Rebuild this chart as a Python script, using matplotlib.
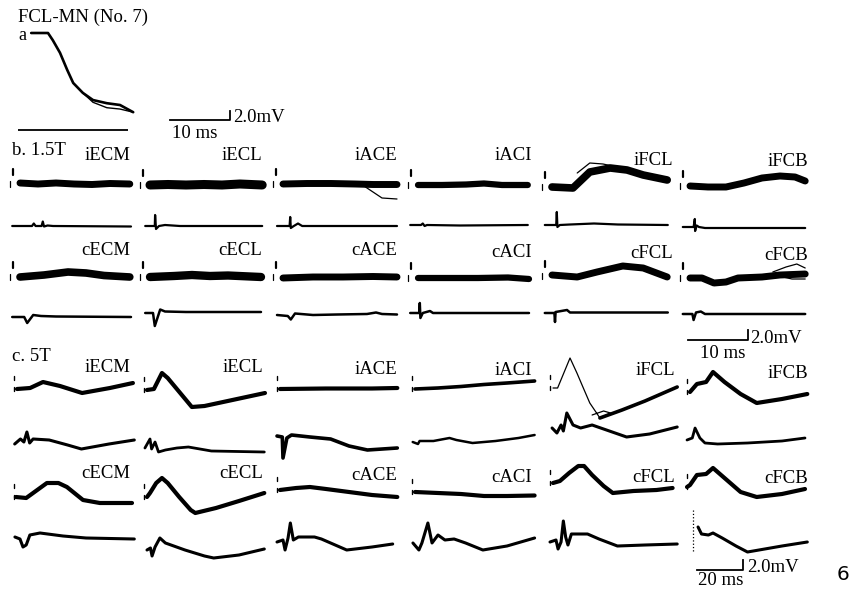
import matplotlib
matplotlib.use("Agg")
from matplotlib import pyplot as plt

# ---- data (time in ms, potential in mV, upward positive) ----
muscles = ['ECM', 'ECL', 'ACE', 'ACI', 'FCL', 'FCB']

# panel a: FCL motoneuron
a_trace = [(-0.3, 0), (2.5, 0), (3.3, -1.6), (4.5, -4.4), (5.7, -8.2), (6.7, -11.1),
           (8.3, -13.3), (10, -14.9), (12.3, -15.6), (14.5, -16.0), (16.7, -17.6)]
a_sweep = [(8.3, -13.3), (10, -15.4), (12.3, -16.6), (14.5, -16.9), (16.7, -17.6)]
a_ref_level = -21.6
a_ref_span = (-2.5, 15.8)

# panel b: 1.5T, ipsi EMG / reference / contra EMG / reference
b_row1 = [
    [(0, 0.2), (3, 0.0), (6, 0.2), (9, 0.0), (12, -0.1), (15, 0.1), (18.3, 0.0)],
    [(0, 0), (3, 0.1), (6, 0), (9, 0.1), (12, 0), (15, 0.2), (18.7, 0)],
    [(0, 0), (4, 0.1), (8, 0.1), (12, 0), (15, -0.1), (19, -0.1)],
    [(0, 0), (4, 0), (8, 0.1), (11, 0.3), (14, 0), (18.3, 0)],
    [(0, 0), (3.5, -0.2), (6.3, 3.0), (9.7, 3.8), (12.5, 3.4), (15.2, 2.4), (19.2, 1.4)],
    [(0, 0), (3, -0.2), (6, -0.2), (9, 0.6), (12, 1.6), (15, 2.0), (17.5, 1.8), (19.2, 1.0)],
]
b_row2 = [
    [(-1.3, 0), (2.0, 0), (2.3, 0.5), (2.6, 0), (3.6, 0), (3.8, 0.9), (4.0, -0.1), (4.6, 0.1), (5.5, 0), (18.5, -0.1)],
    [(-0.8, 0), (0.8, 0), (0.85, 2.2), (1.0, -0.6), (1.5, 0), (2.5, 0.2), (5, 0), (18.7, 0)],
    [(-1.0, 0), (1.1, 0), (1.2, 1.8), (1.3, -0.4), (1.8, 0), (2.5, 0.5), (3.2, 0), (19, 0)],
    [(-1.3, 0), (0.5, 0), (0.8, 0.3), (1.1, -0.2), (1.5, 0), (7, -0.1), (18.3, 0)],
    [(-1.2, 0), (0.7, 0), (0.8, 2.6), (0.9, -0.4), (1.3, 0), (3, 0.1), (7, 0.3), (11, 0.1), (19.3, 0)],
    [(-1.2, 0), (0.6, 0), (0.8, 1.6), (0.85, -0.8), (1.1, 0.3), (1.5, 0), (2.5, -0.2), (19.2, -0.2)],
]
b_row3 = [
    [(0, 0), (4, 0.4), (8, 1.0), (11, 0.8), (14, 0.3), (18.3, 0)],
    [(0, 0), (4, 0.2), (7, 0.4), (10, 0.2), (13, 0.3), (18.5, 0)],
    [(0, -0.2), (5, 0), (10, 0), (15, 0.1), (19, 0)],
    [(0, 0), (5, 0), (10, 0), (15, 0.1), (18.5, -0.2)],
    [(0, 0.2), (4.2, -0.2), (7.5, 0.8), (11.8, 2.0), (15.2, 1.6), (19.2, -0.2)],
    [(0, 0), (2, 0), (4, -1.0), (6, -0.8), (8, 0), (12, 0.2), (15, 0.6), (19.2, 0.8)],
]
b_row4 = [
    [(-1.3, 0), (0.7, 0), (1.2, -1.2), (2.2, 0.4), (3.5, 0.2), (6, 0.1), (18.5, 0)],
    [(-0.8, 0), (0.5, 0), (0.8, -2.6), (1.7, 0.7), (2.5, 0.3), (6, 0.2), (18.5, 0.2)],
    [(-1, 0), (0.8, -0.2), (1.3, -0.9), (2, 0.3), (5, 0), (9, 0.1), (14, 0.2), (15.5, 0.5), (16.5, 0.2), (19, 0.1)],
    [(-1.3, 0), (0.2, 0), (0.3, 2.0), (0.4, -1.0), (0.8, 0), (2, 0.4), (2.5, 0), (18.5, 0)],
    [(-1.2, 0), (0.4, 0), (0.5, -1.8), (0.6, 0.2), (2.5, 0.6), (3, 0.1), (19.3, 0.1)],
    [(-1.2, 0), (0.4, 0), (0.6, -1.2), (1, 0.3), (1.8, 0.5), (2.5, 0), (19.2, 0)],
]
# single sweeps that stand out of the bands (row, column, points)
b_sweeps = [
    (0, 2, [(13.5, -0.4), (15.5, -2.0), (16.5, -2.8), (19, -3.0)]),
    (0, 4, [(4.2, 2.8), (6.3, 4.8), (8.5, 4.6), (10.8, 4.0)]),
    (2, 5, [(13.8, 1.2), (16, 2.2), (17.8, 2.8), (19.2, 2.0)]),
    (2, 5, [(14, 0.6), (17, -0.2), (19.2, -0.2)]),
]
b_cal_marks = [(-1.2, 1.8, 3.0), (-1.7, -0.6, 0.6)]

# panel c: 5T
c_row1 = [
    [(0, 0), (5.7, 0.2), (11.3, 1.4), (18.7, 0.6), (28.3, -0.8), (40.4, 0.2), (50.4, 1.2)],
    [(0, 0), (3, 0.2), (6.5, 3.4), (9, 2.4), (19.5, -3.4), (25, -3.2), (51.3, -0.6)],
    [(0, 0), (20, 0.1), (40, 0.1), (51, 0.2)],
    [(0, 0), (10, 0.2), (20, 0.5), (30, 0.9), (40, 1.2), (52, 1.6)],
    [(20.4, -6.0), (30, -4.4), (40, -2.6), (54, 0.2)],
    [(0, 0), (3, 1.6), (7, 2.0), (10, 4.0), (15, 2.0), (22, -0.4), (29, -2.2), (40, -1.4), (51, -0.4)],
]
c_row2 = [
    [(-1, -0.8), (1.5, 0.2), (3, -0.4), (4.3, 1.6), (5.5, -0.6), (7, 0.2), (14, 0), (22, -1.0), (28, -1.8), (40, -0.8), (51, 0)],
    [(-0.9, 0.2), (1.3, 2.0), (2, 0), (3.5, 1.4), (5, -0.6), (8, -0.2), (13, 0.2), (18, 0.4), (28, -0.4), (51, -0.6)],
    [(-1.3, 0.4), (1, 0.2), (1.3, -4.0), (3, 0), (5, 0.6), (13, 0.2), (22, -0.2), (30, -1.6), (38, -2.4), (51, -2.0)],
    [(-1, 0), (1.3, -0.4), (2, 0.2), (8, 0.2), (15, 0.8), (18, 0.4), (25, -0.2), (35, 0.2), (45, 0.8), (52, 1.4)],
    [(-0.4, 0), (1.7, -1.0), (3.5, 0.6), (4.5, -0.6), (6, 3.0), (8.7, 0.6), (12, 0), (17, 0.6), (22, -0.2), (32, -1.8), (42, -1.2), (54, 0.2)],
    [(-1.3, 0), (1, 0.4), (2.2, 2.4), (4.3, 0.4), (6.5, -0.6), (12, -0.8), (25, -0.6), (40, -0.2), (50, 0.4)],
]
c_row3 = [
    [(-0.5, 0), (4, -0.2), (7, 0.8), (13, 2.8), (18, 2.8), (21.7, 2.0), (28.7, -0.6), (36, -1.2), (50, -1.2)],
    [(0, 0), (1.3, 0.8), (4, 2.8), (6.5, 3.8), (9, 2.8), (14, 0), (19, -2.6), (21, -3.2), (30, -2.2), (40, -0.8), (51, 0.8)],
    [(0, 0), (7, 0.4), (13, 0.6), (20, 0.2), (30, -0.4), (40, -1.0), (51, -1.4)],
    [(0, 0), (10, -0.2), (20, -0.4), (30, -0.8), (40, -0.8), (52, -0.7)],
    [(0, 0), (3, 0.4), (7, 2.0), (11, 3.4), (13.5, 3.4), (17, 1.6), (22, -0.6), (26, -2.0), (35, -1.6), (45, -1.4), (52, -1.0)],
    [(-1.3, 0), (0, 0.4), (3, 2.4), (7, 2.6), (10, 3.8), (15, 1.8), (22, -1.0), (29, -2.0), (40, -1.4), (50, -0.4)],
]
c_row4 = [
    [(-0.9, 0), (1.3, -0.4), (2.6, -2.0), (4, -1.6), (5.6, 0.4), (10, 0.8), (20, 0.2), (30, -0.2), (51, -0.4)],
    [(0, 0), (1.5, 0.4), (2.2, -1.2), (3.5, 0.6), (5.6, 2.4), (8, 1.4), (16.5, 0), (25, -1.2), (29, -1.6), (40, -1.0), (51, 0.2)],
    [(-1.3, 0), (1.3, 0.4), (2.2, -1.6), (3.5, 0.8), (4.5, 3.8), (5.8, 0.4), (8, 1.0), (15, 1.0), (18, 0.6), (24, -0.6), (29, -1.6), (40, -1.0), (49, -0.4)],
    [(-0.9, 0), (1.7, -1.4), (3, 0), (5.6, 4.0), (7.4, 0), (10, 1.6), (13, 0.6), (17, 0.8), (22, 0), (29.5, -1.4), (40, -0.6), (52, 1.0)],
    [(-1.3, 0), (1.3, 0.4), (2.2, -1.4), (3.5, 0), (4.5, 4.2), (5.5, 1.0), (6.5, -0.6), (8, 1.6), (15, 1.6), (20, 0.6), (28, -0.8), (40, -0.6), (54, -0.4)],
    [(3.5, 1.6), (5, 0.2), (8, 0), (10, 0.4), (14, -0.6), (20, -2.2), (25, -3.4), (30, -3.0), (40, -2.2), (51, -1.4)],
]
c_sweeps = [
    (0, 4, [(0, 0), (2, 0), (7.4, 6.0), (10.4, 3.0), (13, 0.2), (16, -3.0), (20.4, -6.0), (25, -5.0), (22, -4.6), (17, -5.4)], '-'),
    (3, 5, [(1.3, 5.0), (1.3, -3.6)], ':'),
]
c_cal_marks = [(-1.3, 1.8, 2.6), (-1.3, -0.3, 0.4)]

# ---- layout (pixels) ----
W, H = 852, 599
b_col_x = [20, 150, 283, 418, 552, 690]
b_base = [[184, 185, 184, 185, 187, 186],
          [226, 226, 226, 225, 225, 227],
          [277, 277, 277, 278, 276, 278],
          [317, 313, 315, 313, 313, 314]]
b_lw = [[5, 6.5, 5, 4.5, 5.5, 5], [1.6] * 6, [5.5, 6, 5, 4.5, 5, 5], [1.8] * 6]
c_col_x = [17, 147, 280, 415, 553, 690]
c_base = [[389, 390, 389, 389, 388, 392],
          [440, 449, 438, 442, 428, 440],
          [497, 497, 490, 492, 483, 487],
          [537, 550, 542, 543, 542, 535]]
c_lw = [[3, 3, 3, 2.6, 2.6, 3], [2.2, 2.0, 2.6, 1.8, 2.2, 2.0], [3, 3, 3, 3, 3, 3], [2.2] * 6]
b_lab_x = [130, 262, 397, 532, 673, 808]
b_lab_y = [[160, 160, 160, 160, 165, 166], [255, 255, 255, 257, 258, 260]]
c_lab_x = [130, 263, 397, 532, 675, 808]
c_lab_y = [[372, 372, 374, 375, 375, 378], [478, 478, 480, 482, 482, 483]]

fig = plt.figure(figsize=(W / 100, H / 100), dpi=100)
fig.patch.set_facecolor('white')
ov = fig.add_axes([0, 0, 1, 1])
ov.set_xlim(0, W)
ov.set_ylim(H, 0)
ov.axis('off')

serif = 'Liberation Serif'
fs = 13.5


def trace_axes(x0, y0, px_ms, px_mv, tlim, vlim):
    left = x0 + tlim[0] * px_ms
    top = y0 - vlim[1] * px_mv
    w = (tlim[1] - tlim[0]) * px_ms
    h = (vlim[1] - vlim[0]) * px_mv
    ax = fig.add_axes([left / W, 1 - (top + h) / H, w / W, h / H])
    ax.set_xlim(*tlim)
    ax.set_ylim(*vlim)
    ax.axis('off')
    return ax


def draw(ax, pts, lw, ls='-'):
    t = [p[0] for p in pts]
    v = [p[1] for p in pts]
    ax.plot(t, v, color='black', lw=lw, ls=ls, solid_capstyle='round',
            solid_joinstyle='round', clip_on=False)


def scale_bar(x0, y0, px_ms, px_mv, ms, mv):
    ax = trace_axes(x0, y0, px_ms, px_mv, (0, ms), (0, mv))
    ax.plot([0, ms, ms], [0, 0, mv], color='black', lw=1.3, clip_on=False)


# panel a
ax = trace_axes(33, 33, 6, 4.5, (-3, 18), (-23, 2))
draw(ax, a_trace, 1.9)
draw(ax, a_sweep, 1.0)
ax.hlines(a_ref_level, *a_ref_span, color='black', lw=1.3)
ov.text(18, 22, 'FCL-MN (No. 7)', family=serif, fontsize=fs)
ov.text(18, 40, 'a', family=serif, fontsize=13)
scale_bar(170, 120, 6, 4.5, 10, 2)
ov.text(233, 122, '2.0mV', family=serif, fontsize=fs)
ov.text(172, 138, '10 ms', family=serif, fontsize=fs)

# panel b
ov.text(12, 155, 'b. 1.5T', family=serif, fontsize=fs)
b_axes = {}
for r, row in enumerate([b_row1, b_row2, b_row3, b_row4]):
    for c, pts in enumerate(row):
        ax = trace_axes(b_col_x[c], b_base[r][c], 6, 5, (-3, 20), (-6, 6))
        draw(ax, pts, b_lw[r][c])
        b_axes[(r, c)] = ax
        if r in (0, 2):
            draw(ax, [(b_cal_marks[0][0], b_cal_marks[0][1]), (b_cal_marks[0][0], b_cal_marks[0][2])], 1.6)
            draw(ax, [(b_cal_marks[1][0], b_cal_marks[1][1]), (b_cal_marks[1][0], b_cal_marks[1][2])], 0.9)
for r, c, pts in b_sweeps:
    draw(b_axes[(r, c)], pts, 0.9)
for c, m in enumerate(muscles):
    ov.text(b_lab_x[c], b_lab_y[0][c], 'i' + m, family=serif, fontsize=fs, ha='right')
    ov.text(b_lab_x[c], b_lab_y[1][c], 'c' + m, family=serif, fontsize=fs, ha='right')
scale_bar(688, 340, 6, 5, 10, 2)
ov.text(750, 343, '2.0mV', family=serif, fontsize=fs)
ov.text(700, 358, '10 ms', family=serif, fontsize=fs)

# panel c
ov.text(12, 361, 'c. 5T', family=serif, fontsize=fs)
c_axes = {}
for r, row in enumerate([c_row1, c_row2, c_row3, c_row4]):
    for c, pts in enumerate(row):
        ax = trace_axes(c_col_x[c], c_base[r][c], 2.3, 5, (-3, 56), (-8, 8))
        draw(ax, pts, c_lw[r][c])
        c_axes[(r, c)] = ax
        if r in (0, 2):
            for t, v1, v2 in c_cal_marks:
                draw(ax, [(t, v1), (t, v2)], 1.0)
for r, c, pts, ls in c_sweeps:
    draw(c_axes[(r, c)], pts, 0.9, ls)
for c, m in enumerate(muscles):
    ov.text(c_lab_x[c], c_lab_y[0][c], 'i' + m, family=serif, fontsize=fs, ha='right')
    ov.text(c_lab_x[c], c_lab_y[1][c], 'c' + m, family=serif, fontsize=fs, ha='right')
scale_bar(697, 570, 2.3, 5, 20, 2)
ov.text(747, 572, '2.0mV', family=serif, fontsize=fs)
ov.text(698, 585, '20 ms', family=serif, fontsize=fs)
ov.text(837, 580, '6', family='DejaVu Sans', fontsize=14.5)

fig.savefig('out.png', dpi=100, facecolor='white')
